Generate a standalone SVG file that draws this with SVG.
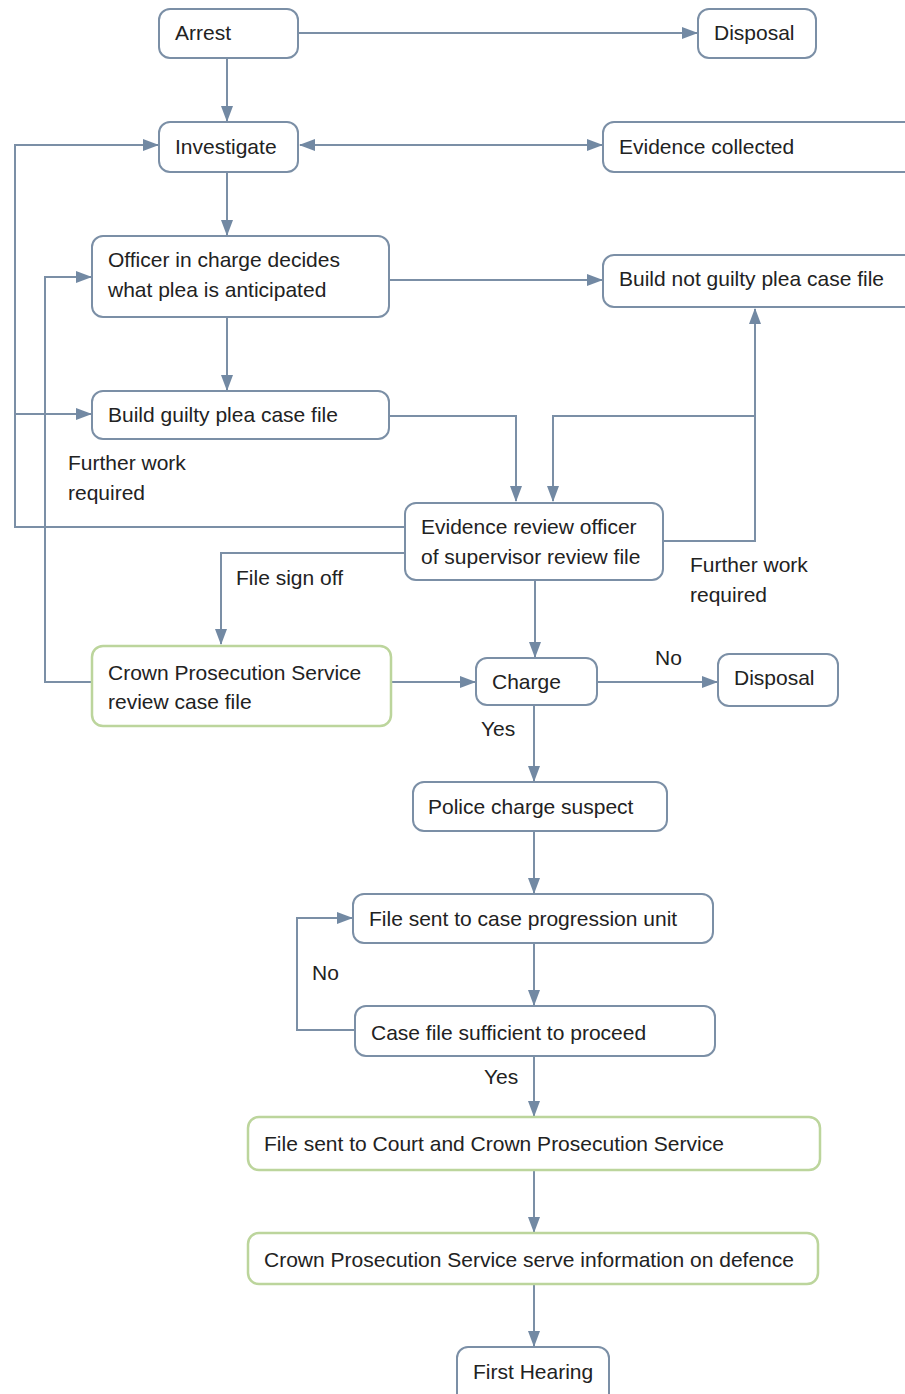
<svg xmlns="http://www.w3.org/2000/svg" width="905" height="1394" viewBox="0 0 905 1394">
<style>
.n{fill:#fff;stroke:#7b8fa6;stroke-width:2}
.g{fill:#fff;stroke:#bcd59c;stroke-width:2.5}
.t{font-family:"Liberation Sans",Arial,sans-serif;font-size:21px;fill:#222}
.c{fill:none;stroke:#7b8fa6;stroke-width:2}
</style>
<defs>
<marker id="a" markerUnits="userSpaceOnUse" markerWidth="16" markerHeight="12" refX="15" refY="6" orient="auto-start-reverse">
<path d="M0,0 L16,6 L0,12 Z" fill="#7289a3"/>
</marker>
</defs>
<rect width="905" height="1394" fill="#fff"/>
<g id="connectors">
<path class="c" d="M298,33 H697" marker-end="url(#a)"/>
<path class="c" d="M227,58 V121" marker-end="url(#a)"/>
<path class="c" d="M300,145 H602" marker-start="url(#a)" marker-end="url(#a)"/>
<path class="c" d="M227,172 V235" marker-end="url(#a)"/>
<path class="c" d="M405,527 H15 V145 H158" marker-end="url(#a)"/>
<path class="c" d="M15,414 H91" marker-end="url(#a)"/>
<path class="c" d="M92,682 H45 V277 H91" marker-end="url(#a)"/>
<path class="c" d="M389,280 H602" marker-end="url(#a)"/>
<path class="c" d="M227,317 V390" marker-end="url(#a)"/>
<path class="c" d="M389,416 H516 V501" marker-end="url(#a)"/>
<path class="c" d="M755,416 H553 V501" marker-end="url(#a)"/>
<path class="c" d="M663,541 H755 V309" marker-end="url(#a)"/>
<path class="c" d="M405,553 H221 V644" marker-end="url(#a)"/>
<path class="c" d="M535,580 V657" marker-end="url(#a)"/>
<path class="c" d="M391,682 H475" marker-end="url(#a)"/>
<path class="c" d="M597,682 H717" marker-end="url(#a)"/>
<path class="c" d="M534,705 V781" marker-end="url(#a)"/>
<path class="c" d="M534,831 V893" marker-end="url(#a)"/>
<path class="c" d="M534,943 V1005" marker-end="url(#a)"/>
<path class="c" d="M355,1030 H297 V918 H352" marker-end="url(#a)"/>
<path class="c" d="M534,1056 V1116" marker-end="url(#a)"/>
<path class="c" d="M534,1170 V1232" marker-end="url(#a)"/>
<path class="c" d="M534,1284 V1346" marker-end="url(#a)"/>
<text class="t" x="68" y="470">Further work</text>
<text class="t" x="68" y="500">required</text>
<text class="t" x="690" y="572">Further work</text>
<text class="t" x="690" y="602">required</text>
<text class="t" x="236" y="585">File sign off</text>
<text class="t" x="655" y="665">No</text>
<text class="t" x="481" y="736">Yes</text>
<text class="t" x="312" y="980">No</text>
<text class="t" x="484" y="1084">Yes</text>
</g>
<g id="arrest"><rect class="n" x="159" y="9" width="139" height="49" rx="11"/><text class="t" x="175" y="40">Arrest</text></g>
<g id="disposal1"><rect class="n" x="698" y="9" width="118" height="49" rx="11"/><text class="t" x="714" y="40">Disposal</text></g>
<g id="investigate"><rect class="n" x="159" y="122" width="139" height="50" rx="11"/><text class="t" x="175" y="154">Investigate</text></g>
<g id="evidence-collected"><rect class="n" x="603" y="122" width="320" height="50" rx="11"/><text class="t" x="619" y="154">Evidence collected</text></g>
<g id="officer"><rect class="n" x="92" y="236" width="297" height="81" rx="11"/><text class="t" x="108" y="267">Officer in charge decides</text><text class="t" x="108" y="297">what plea is anticipated</text></g>
<g id="not-guilty"><rect class="n" x="603" y="255" width="320" height="52" rx="11"/><text class="t" x="619" y="286">Build not guilty plea case file</text></g>
<g id="guilty"><rect class="n" x="92" y="391" width="297" height="48" rx="11"/><text class="t" x="108" y="422">Build guilty plea case file</text></g>
<g id="evidence-review"><rect class="n" x="405" y="503" width="258" height="77" rx="11"/><text class="t" x="421" y="534">Evidence review officer</text><text class="t" x="421" y="564">of supervisor review file</text></g>
<g id="cps-review"><rect class="g" x="92" y="646" width="299" height="80" rx="11"/><text class="t" x="108" y="680">Crown Prosecution Service</text><text class="t" x="108" y="709">review case file</text></g>
<g id="charge"><rect class="n" x="476" y="658" width="121" height="47" rx="11"/><text class="t" x="492" y="689">Charge</text></g>
<g id="disposal2"><rect class="n" x="718" y="654" width="120" height="52" rx="11"/><text class="t" x="734" y="685">Disposal</text></g>
<g id="police-charge"><rect class="n" x="413" y="782" width="254" height="49" rx="11"/><text class="t" x="428" y="814">Police charge suspect</text></g>
<g id="progression"><rect class="n" x="353" y="894" width="360" height="49" rx="11"/><text class="t" x="369" y="926">File sent to case progression unit</text></g>
<g id="sufficient"><rect class="n" x="355" y="1006" width="360" height="50" rx="11"/><text class="t" x="371" y="1040">Case file sufficient to proceed</text></g>
<g id="court"><rect class="g" x="248" y="1117" width="572" height="53" rx="11"/><text class="t" x="264" y="1151">File sent to Court and Crown Prosecution Service</text></g>
<g id="cps-serve"><rect class="g" x="248" y="1233" width="570" height="51" rx="11"/><text class="t" x="264" y="1267">Crown Prosecution Service serve information on defence</text></g>
<g id="first-hearing"><rect class="n" x="457" y="1347" width="152" height="60" rx="11"/><text class="t" x="473" y="1379">First Hearing</text></g>
</svg>
